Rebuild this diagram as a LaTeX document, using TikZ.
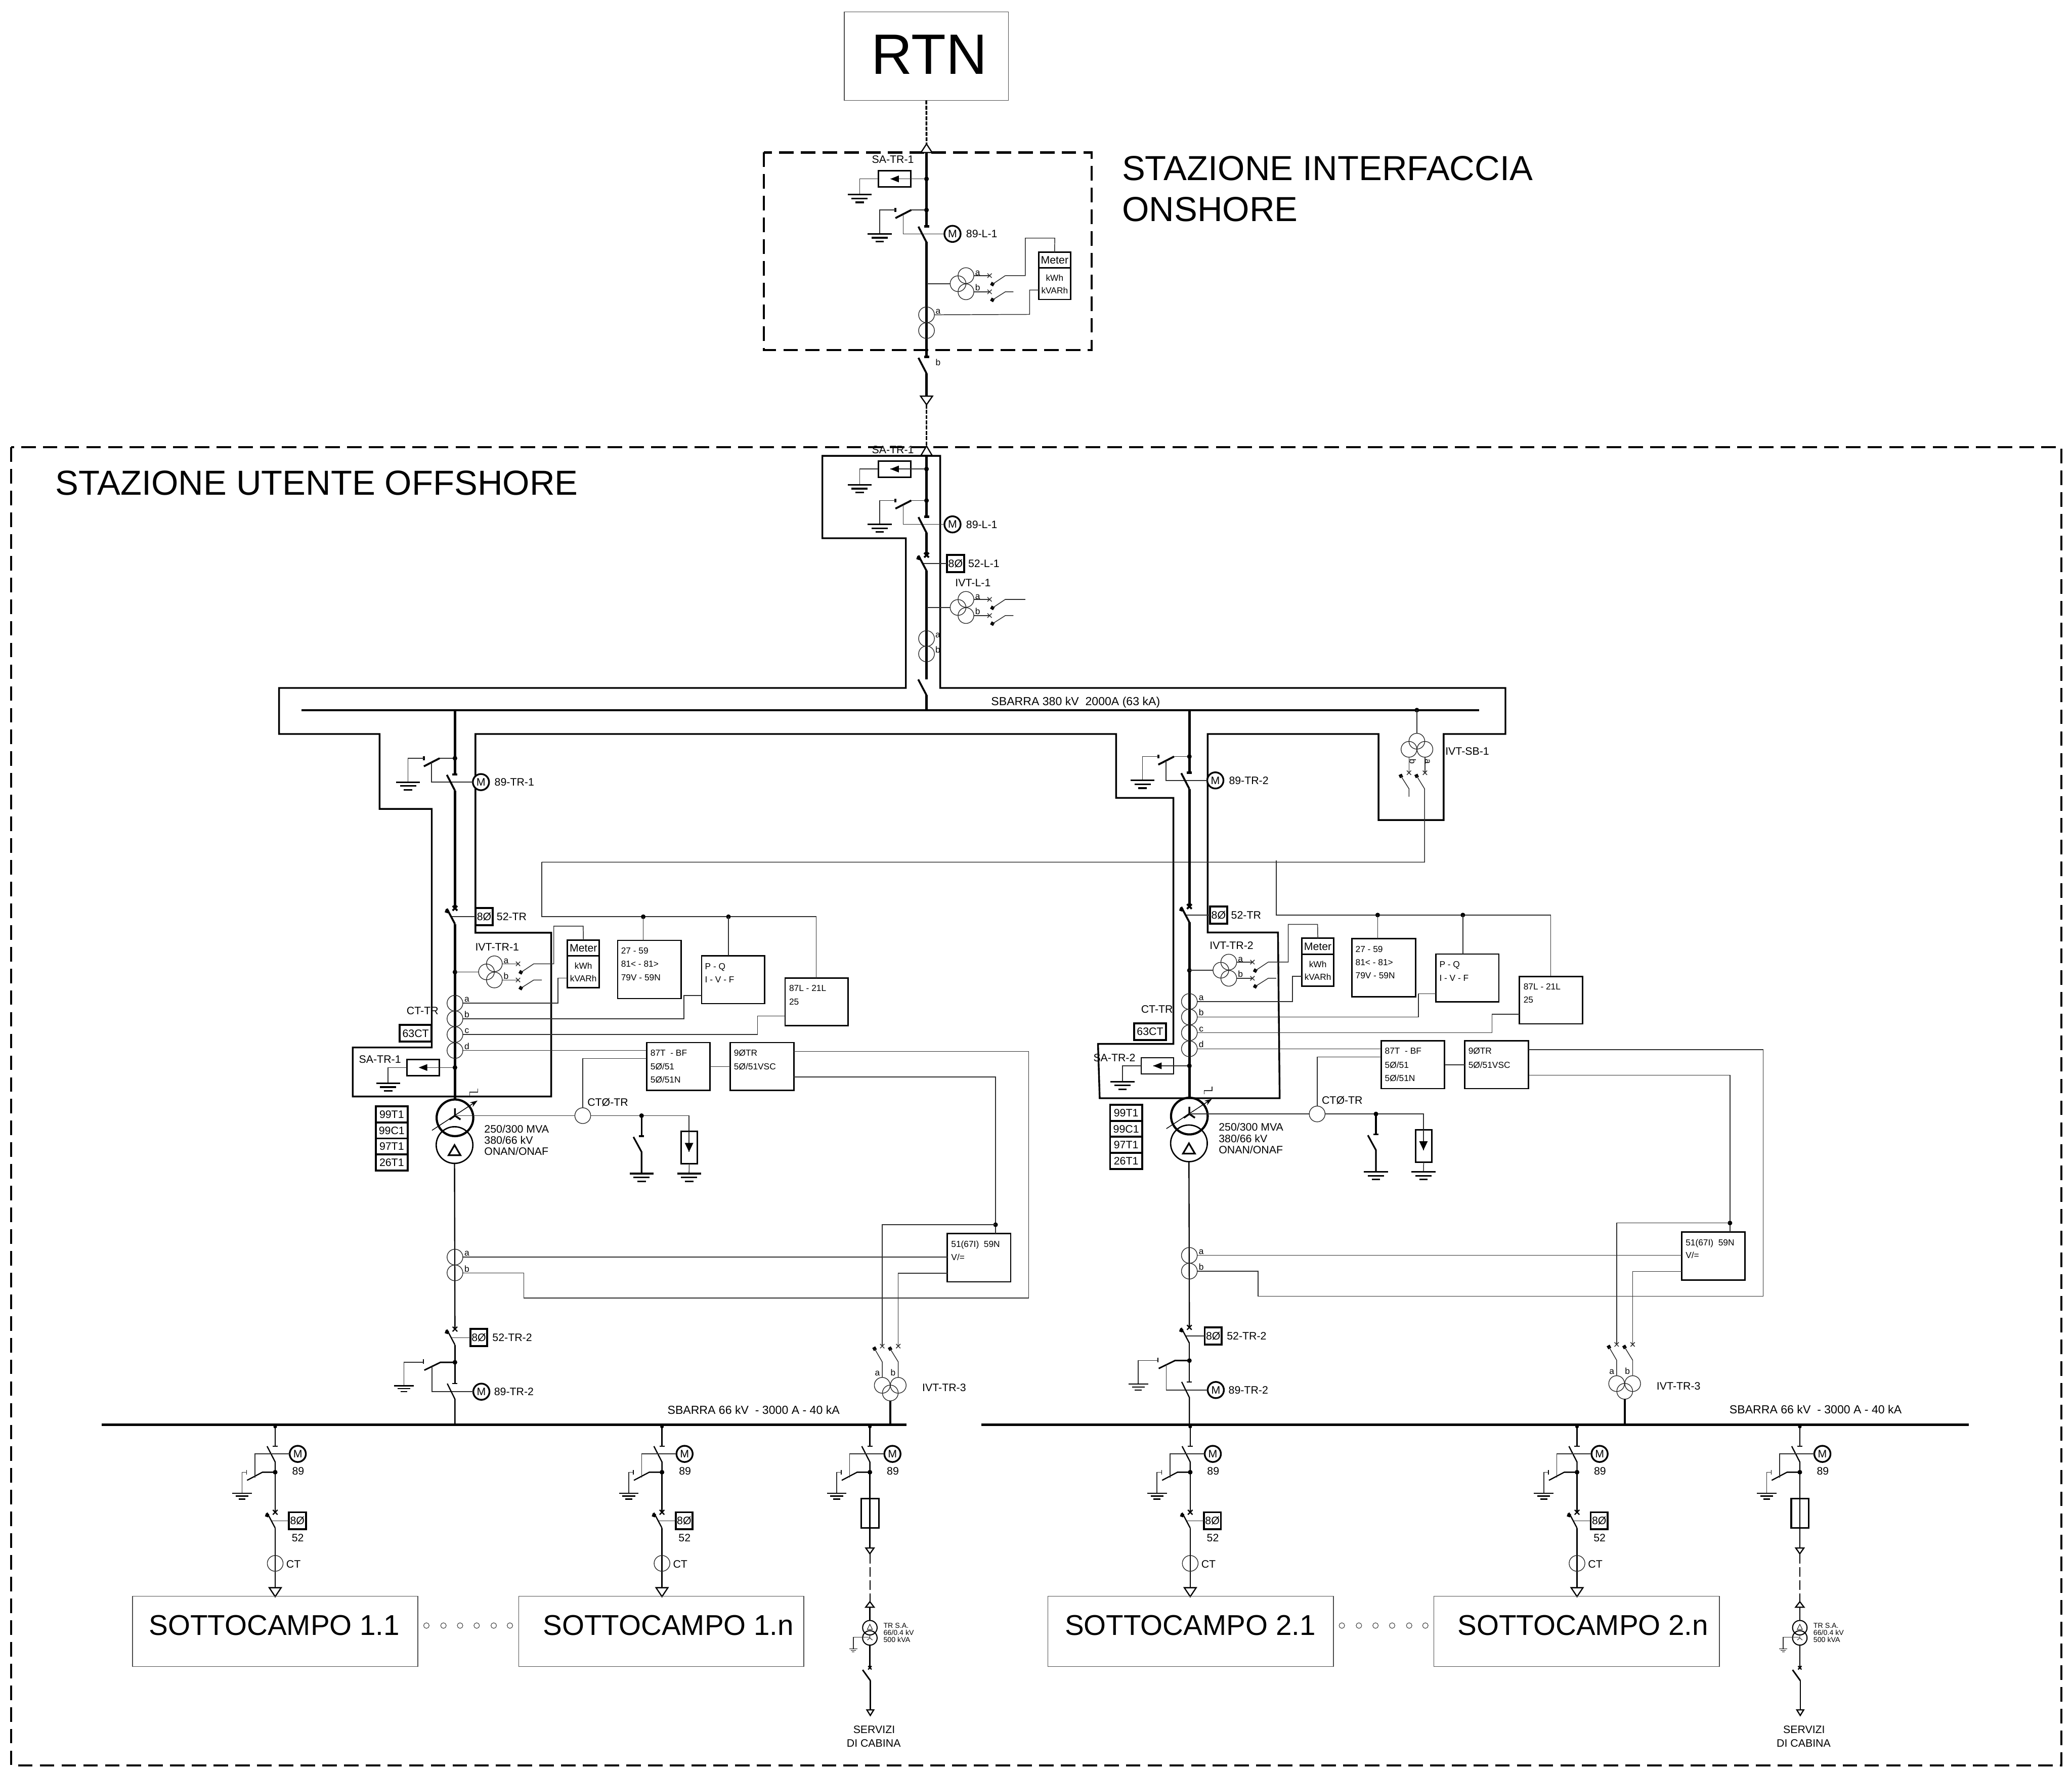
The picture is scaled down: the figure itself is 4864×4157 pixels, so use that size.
\documentclass[tikz,border=0pt]{standalone}
\usepackage{fontspec}
\setmainfont{Liberation Sans}
\usetikzlibrary{arrows.meta}
\newcounter{tn}
\tikzset{
 t7/.style={font=\fontsize{7.2}{8.6}\selectfont,text height=5.15pt,text depth=0pt,inner sep=0pt,outer sep=0pt},
 t6/.style={font=\fontsize{5.85}{7}\selectfont,text height=4.2pt,text depth=0pt,inner sep=0pt,outer sep=0pt},
 t8/.style={font=\fontsize{7.8}{9.5}\selectfont,text height=5.6pt,text depth=0pt,inner sep=0pt,outer sep=0pt},
 t5/.style={font=\fontsize{4.8}{5.8}\selectfont,text height=3.45pt,text depth=0pt,inner sep=0pt,outer sep=0pt},
 t19/.style={font=\fontsize{19.1}{22}\selectfont,text height=13.7pt,text depth=0pt,inner sep=0pt,outer sep=0pt},
 t23/.style={font=\fontsize{23.2}{27}\selectfont,text height=16.6pt,text depth=0pt,inner sep=0pt,outer sep=0pt},
 t38/.style={font=\fontsize{38}{44}\selectfont,text height=27pt,text depth=0pt,inner sep=0pt,outer sep=0pt},
 wire/.style={line width=0.5pt,draw=black!82},
 mainl/.style={line width=1.65pt},
 medl/.style={line width=0.8pt},
 fl/.style={line width=0.8pt},
 bladeA/.style={line width=1.25pt},
 bladeB/.style={line width=0.8pt},
 outl/.style={line width=1.15pt,line join=miter},
 busA/.style={line width=1.35pt},
 busB/.style={line width=1.7pt},
 zone/.style={line width=1.4pt,dash pattern=on 9.7pt off 4.8pt},
 cable/.style={line width=1.2pt,dash pattern=on 2.6pt off 0.9pt},
 cableB/.style={line width=0.7pt,dash pattern=on 6.5pt off 2.3pt},
 rbox/.style={draw,rectangle,line width=0.95pt,inner sep=0pt,outer sep=0pt},
 tbox/.style={draw,rectangle,line width=1.3pt,fill=white,inner sep=0pt,outer sep=0pt,t7},
 lbox/.style={draw=black!70,rectangle,line width=0.5pt,inner sep=0pt,outer sep=0pt},
 mot/.style={draw,circle,line width=1.15pt,fill=white,minimum size=0.38cm,inner sep=0pt,outer sep=0pt,font=\fontsize{7.2}{8.6}\selectfont},
 cir/.style={draw=black!85,circle,line width=0.45pt,minimum size=0.37cm,inner sep=0pt,outer sep=0pt},
 smc/.style={draw=black!70,circle,line width=0.4pt,minimum size=0.13cm,inner sep=0pt,outer sep=0pt},
}
\newcommand{\tx}[5][t7]{\stepcounter{tn}\node[#1,anchor=#2] (t\number\value{tn}) at (#3,#4) {#5};}
\newcommand{\bx}[6][rbox]{%
 \pgfmathsetmacro\myW{((#5)-(#3))*0.01}\pgfmathsetmacro\myH{((#6)-(#4))*0.01}%
 \node[#1,minimum width=\myW cm,minimum height=\myH cm] (#2) at ({((#3)+(#5))/2},{((#4)+(#6))/2}) {};}
\newcommand{\bxt}[7][rbox]{%
 \pgfmathsetmacro\myW{((#5)-(#3))*0.01}\pgfmathsetmacro\myH{((#6)-(#4))*0.01}%
 \node[#1,minimum width=\myW cm,minimum height=\myH cm] (#2) at ({((#3)+(#5))/2},{((#4)+(#6))/2}) {#7};}
\newcommand{\gndb}[2]{\draw[line width=1.1pt] (#1-28,#2)--(#1+28,#2) (#1-19,#2+9)--(#1+19,#2+9) (#1-10,#2+18)--(#1+10,#2+18);}
\newcommand{\gnds}[2]{\draw[line width=0.75pt] (#1-23,#2)--(#1+23,#2) (#1-15,#2+7)--(#1+15,#2+7) (#1-8,#2+14)--(#1+8,#2+14);}
\newcommand{\gndt}[2]{\draw[line width=0.4pt] (#1-9.5,#2)--(#1+9.5,#2) (#1-6,#2+3.5)--(#1+6,#2+3.5) (#1-3,#2+7)--(#1+3,#2+7);}
\newcommand{\xm}[4]{\draw[#4] (#1-#3,#2-#3)--(#1+#3,#2+#3) (#1-#3,#2+#3)--(#1+#3,#2-#3);}
\newcommand{\sq}[3]{\fill[rotate around={#3:(#1,#2)}] (#1-4,#2-4) rectangle (#1+4,#2+4);}
\newcommand{\trid}[5]{\draw[#5,fill=white] (#1-#4,#2)--(#1+#4,#2)--(#1,#3)--cycle;}
\newcommand{\jdot}[2]{\fill (#1,#2) circle (1.55pt);}
\newcommand{\eswitch}[4]{%
 \node[mot] (#1) at (#2+61,#3+56) {M};
 \draw[wire] (#2,#3)--(#2-36,#3);
 \draw[bladeA] (#2-36,#3)--(#2-73,#3+19);
 \draw[bladeA] (#2-73,#3-4.5)--(#2-73,#3+4.5);
 \draw[wire] (#2-73,#3)--(#2-110,#3)--(#2-110,#3+56);
 \gndb{#2-110}{#3+56}
 \draw[wire] (#2-55,#3+10)--(#2-55,#3+56)--(#1.west);
 \jdot{#2}{#3}
 \draw[mainl] (#2-6,#3+38)--(#2+6,#3+38);
 \draw[bladeA] (#2-19,#3+39)--(#2,#3+76);
 \tx{west}{#2+93}{#3+56}{#4}}
\newcommand{\breaker}[5]{%
 \bxt[tbox]{#1}{#2+#4-20}{#3}{#2+#4+20}{#3+40}{8Ø}
 \draw[wire] (#2-10,#3+20)--(#1.west);
 \draw[#5] (#2-19,#3+1)--(#2,#3+37);
 \xm{#2}{#3}{5.5}{#5}
 \sq{#2-19}{#3+7}{-20}}
\newcommand{\sabox}[3]{%
 \bx[rbox]{#1}{#2-113}{#3-19}{#2-37}{#3+19}
 \draw[wire] (#2,#3)--(#2-85,#3);
 \fill (#2-85,#3)--(#2-65,#3-8)--(#2-65,#3+8)--cycle;
 \draw[wire] (#1.west)--(#2-157,#3)--(#2-157,#3+37);
 \gndb{#2-157}{#3+37}
 \jdot{#2}{#3}}
\newcommand{\cvt}[3]{%
 \node[cir] (#1m) at (#2,#3) {};
 \node[cir] (#1a) at (#2+18.5,#3-19) {};
 \node[cir] (#1b) at (#2+18.5,#3+19) {};
 \draw[wire] (#1a.east)--(#2+74,#3-19);
 \draw[wire] (#1b.east)--(#2+74,#3+19);
 \xm{#2+74}{#3-19}{5}{wire}
 \xm{#2+74}{#3+19}{5}{wire}
 \sq{#2+80.6}{#3+1}{-30}
 \sq{#2+80.6}{#3+38}{-30}
 \coordinate (#1p) at (#2+111,#3-19);
 \coordinate (#1q) at (#2+130,#3+19);
 \draw[wire] (#2+81,#3+1)--(#1p);
 \draw[wire] (#2+81,#3+38)--(#2+111,#3+19)--(#1q);
 \tx[t6]{center}{#2+46}{#3-27}{a}
 \tx[t6]{center}{#2+46}{#3+9}{b}}
\newcommand{\meter}[6]{%
 \bxt[rbox,t7]{#1h}{#2}{#3}{#5}{#4}{Meter}
 \bx[rbox]{#1}{#2}{#4}{#5}{#6}
 \pgfmathsetmacro\myMx{((#2)+(#5))/2}%
 \tx[t6]{center}{\myMx}{#4+23.5}{kWh}
 \tx[t6]{center}{\myMx}{#4+53}{kVARh}}
\newcommand{\bay}[4]{%
 % main circuit
 \draw[mainl] (1068,1669)--(1068,1818);
 \eswitch{m#1}{1068}{1780}{#2}
 \draw[mainl] (1068,1856)--(1068,2132);
 \breaker{b#1}{1068}{2132}{68.5}{bladeA}
 \tx{west}{1166}{2152}{52-TR}
 \draw[mainl] (1068,2169)--(1068,2581);
 \jdot{1068}{2282}
 % voltage transformer
 \cvt{vt#1}{1142}{2281.5}
 \draw[wire] (1068,2281.5)--(vt#1m.west);
 \tx{center}{1167}{2223}{#3}
 \meter{mt#1}{1332}{2206.5}{2244}{1407}{2319}
 \draw[wire] (vt#1p)--(1300,2262.5)--(1300,2174)--(1369,2174)--(mt#1h.north);
 % current transformers
 \node[cir] (ct#1a) at (1068,2355) {};
 \node[cir] (ct#1b) at (1068,2391.5) {};
 \node[cir] (ct#1c) at (1068,2428.5) {};
 \node[cir] (ct#1d) at (1068,2466) {};
 \tx[t6]{center}{1096}{2345}{a}
 \tx[t6]{center}{1096}{2381}{b}
 \tx[t6]{center}{1096}{2418}{c}
 \tx[t6]{center}{1096}{2455.5}{d}
 \tx{center}{992}{2373}{CT-TR}
 \bxt[tbox]{ctb#1}{938.5}{2406}{1013}{2445}{63CT}
 \sabox{sa#1}{1068}{2506}
 \tx{center}{892}{2487}{#4}
 % relays
 \bx[rbox]{ra#1}{1450}{2207.5}{1599}{2344}
 \tx[t6]{west}{1458}{2232}{27 - 59}
 \tx[t6]{west}{1458}{2263}{81< - 81>}
 \tx[t6]{west}{1458}{2294}{79V - 59N}
 \bx[rbox]{rb#1}{1647}{2243.5}{1794.5}{2356}
 \tx[t6]{west}{1655}{2268}{P - Q}
 \tx[t6]{west}{1655}{2299.5}{I - V - F}
 \bx[rbox]{rc#1}{1843}{2296}{1991}{2407.5}
 \tx[t6]{west}{1852.5}{2320}{87L - 21L}
 \tx[t6]{west}{1852.5}{2351}{25}
 \bx[rbox]{rd#1}{1518}{2447.5}{1667}{2559.5}
 \tx[t6]{west}{1527}{2471}{87T\ \ - BF}
 \tx[t6]{west}{1527}{2504}{5Ø/51}
 \tx[t6]{west}{1527}{2535}{5Ø/51N}
 \bx[rbox]{re#1}{1714.5}{2447.5}{1863.5}{2559.5}
 \tx[t6]{west}{1723}{2471}{9ØTR}
 \tx[t6]{west}{1723}{2504}{5Ø/51VSC}
 \bx[rbox]{rf#1}{2224}{2896}{2372.5}{3009}
 \tx[t6]{west}{2233}{2920.5}{51(67I)\ \ 59N}
 \tx[t6]{west}{2233}{2951}{V/=}
 % relay wiring
 \draw[wire] (1272,2024)--(1272,2152)--(1916,2152)--(1916,2296);
 \jdot{1510}{2152}\jdot{1710}{2152}
 \draw[wire] (1510,2152)--(1510,2207.5);
 \draw[wire] (1710,2152)--(1710,2243.5);
 \draw[wire] (ct#1a.east)--(1310,2355)--(1310,2296)--(1332,2296);
 \draw[wire] (ct#1b.east)--(1605.5,2391.5)--(1605.5,2337)--(1647,2337);
 \draw[wire] (ct#1c.east)--(1778.5,2428.5)--(1778.5,2385)--(1843,2385);
 \draw[wire] (ct#1d.east)--(1518,2466);
 \draw[wire] (rd#1.east)--(re#1.west);
 % transformer
 \node[draw,circle,line width=1.45pt,minimum size=0.86cm,inner sep=0pt,outer sep=0pt] (tu#1) at (1068,2624) {};
 \node[draw,circle,line width=0.9pt,minimum size=0.86cm,inner sep=0pt,outer sep=0pt] (tl#1) at (1067,2688) {};
 \draw[line width=1.2pt] (1068,2602)--(1068,2619) (1055,2628)--(1068,2619)--(1081,2628);
 \draw[line width=1.1pt] (1067,2688)--(1053,2712)--(1081,2712)--cycle;
 \draw[wire,-{Stealth[length=5pt,width=3.5pt]},draw=black] (1014,2653.5)--(1121,2583.6);
 \draw[wire] (1102.5,2573)--(1102.5,2564)--(1121.4,2564)--(1121.4,2555);
 \tx{west}{1137}{2650}{250/300 MVA}
 \tx{west}{1137}{2677}{380/66 kV}
 \tx{west}{1137}{2703}{ONAN/ONAF}
 \bxt[tbox]{s1#1}{882}{2597}{957}{2635}{99T1}
 \bxt[tbox]{s2#1}{882}{2635}{957}{2672.5}{99C1}
 \bxt[tbox]{s3#1}{882}{2672.5}{957}{2710}{97T1}
 \bxt[tbox]{s4#1}{882}{2710}{957}{2748}{26T1}
 % neutral
 \node[cir] (cz#1) at (1368,2619) {};
 \tx{west}{1379}{2587}{CTØ-TR}
 \draw[wire] (1068,2619)--(cz#1.west);
 \draw[wire] (cz#1.east)--(1506,2619)--(1617.5,2619)--(1617.5,2656);
 \draw[wire] (cz#1.north)--(1368,2485)--(1518,2485);
 \jdot{1506}{2619}
 \draw[line width=1.1pt] (1506,2619)--(1506,2667) (1500,2667)--(1512,2667);
 \draw[line width=1.1pt] (1487,2669)--(1506,2704)--(1506,2755);
 \gndb{1506}{2755}
 \bx[rbox]{sg#1}{1599}{2656}{1637}{2732}
 \draw[wire] (1617.5,2656)--(1617.5,2704);
 \fill (1607.5,2683)--(1627.5,2683)--(1617.5,2704)--cycle;
 \draw[wire] (sg#1.south)--(1617.5,2755);
 \gndb{1617.5}{2755}
 % secondary side
 \draw[medl] (tl#1.south)--(1068,3120);
 \node[cir] (cu#1a) at (1068,2951) {};
 \node[cir] (cu#1b) at (1068,2988) {};
 \tx[t6]{center}{1096}{2941}{a}
 \tx[t6]{center}{1096}{2978}{b}
 \draw[wire] (cu#1a.east)--(2224,2951);
 \draw[wire] (cu#1b.east)--(1229.5,2988)--(1229.5,3047)--(2415,3047)--(2415,2468)--(1863.5,2468);
 \draw[wire] (1863.5,2528)--(2337,2528)--(2337,2896);
 \jdot{2337}{2875}
 \draw[wire] (2337,2875)--(2071,2875)--(2071,3160);
 \draw[wire] (2224,2989)--(2108.6,2989)--(2108.6,3160);
 % IVT-TR-3
 \xm{2071}{3160}{5}{wire}\xm{2108.6}{3160}{5}{wire}
 \sq{2053}{3166}{30}\sq{2089.5}{3166}{30}
 \node[cir] (vu#1a) at (2071,3252) {};
 \node[cir] (vu#1b) at (2108.6,3252) {};
 \node[cir] (vu#1c) at (2090,3270) {};
 \draw[wire] (2053,3166)--(2071,3197)--(vu#1a.north);
 \draw[wire] (2089.5,3166)--(2108.6,3197)--(vu#1b.north);
 \tx[t6]{center}{2059.5}{3222}{a}
 \tx[t6]{center}{2096.5}{3222}{b}
 \tx{west}{2165}{3257}{IVT-TR-3}
 \draw[line width=1.25pt] (vu#1c.south)--(2090,3346);
 % low-voltage breaker and disconnector
 \breaker{bl#1}{1068}{3120}{56}{bladeB}
 \tx{west}{1156}{3140}{52-TR-2}
 \draw[medl] (1068,3157)--(1068,3248);
 \jdot{1068}{3198}
 \draw[medl] (1062,3248)--(1074,3248);
 \draw[line width=1pt] (1068,3198)--(1034,3198)--(996,3216.5);
 \draw[medl] (994,3191)--(994,3202);
 \draw[wire] (994,3198)--(948,3198)--(948,3253);
 \gnds{948}{3253}
 \node[mot] (ml#1) at (1130,3267) {M};
 \draw[wire] (1014,3207)--(1014,3267)--(ml#1.west);
 \draw[medl] (1050,3248)--(1068,3284.5)--(1068,3347);
 \tx{west}{1160}{3267}{89-TR-2}
}
\newcommand{\fdtop}[2]{%
 \node[mot] (#1m) at (#2+53,3413) {M};
 \fill (#2,3349) circle (1.2pt);
 \draw[fl] (#2,3344)--(#2,3395);
 \draw[fl] (#2-6,3395)--(#2+6,3395);
 \draw[fl] (#2-19,3395)--(#2,3432)--(#2,3456);
 \jdot{#2}{3456}
 \draw[fl] (#2,3456)--(#2-30,3456)--(#2-66,3475);
 \draw[line width=0.6pt] (#2-67,3451)--(#2-67,3461);
 \draw[wire] (#2-67,3456)--(#2-78,3456)--(#2-78,3505);
 \gnds{#2-78}{3505}
 \draw[wire] (#2-47.5,3469)--(#2-47.5,3413)--(#1m.west);
 \tx{center}{#2+54}{3453}{89}}
\newcommand{\fda}[2]{%
 \fdtop{#1}{#2}
 \draw[fl] (#2,3456)--(#2,3550);
 \breaker{#1b}{#2}{3550}{52}{bladeB}
 \tx{center}{#2+53}{3610}{52}
 \draw[fl] (#2,3587)--(#2,3727);
 \node[cir] (#1c) at (#2,3670) {};
 \tx{west}{#2+26}{3672}{CT}
 \trid{#2}{3727}{3748}{14}{medl}}
\newcommand{\fdb}[2]{%
 \fdtop{#1}{#2}
 \draw[fl] (#2,3456)--(#2,3634);
 \bx[rbox,line width=1.1pt]{#1f}{#2-20}{3518}{#2+21}{3587}
 \draw[fl] (#2,3518)--(#2,3587);
 \trid{#2}{3634}{3647.5}{9.5}{medl}
 \draw[cableB] (#2,3648)--(#2,3760);
 \trid{#2}{3773}{3760}{10}{medl}
 \draw[fl] (#2,3773)--(#2,3804);
 \node[draw,circle,line width=0.7pt,minimum size=0.34cm,inner sep=0pt,outer sep=0pt] (#1u) at (#2,3821) {};
 \node[draw,circle,line width=0.7pt,minimum size=0.34cm,inner sep=0pt,outer sep=0pt] (#1l) at (#2,3845) {};
 \draw[line width=0.3pt] (#2,3813)--(#2-6,3825)--(#2+6,3825)--cycle;
 \draw[line width=0.3pt] (#2,3838)--(#2,3845) (#2-6,3850)--(#2,3845)--(#2+6,3850);
 \draw[wire] (#2,3843)--(#2-39,3843)--(#2-39,3870.5);
 \gndt{#2-39}{3870.5}
 \draw[fl] (#1l.south)--(#2,3915);
 \xm{#2}{3915}{4}{medl}
 \draw[line width=1pt] (#2-17,3920)--(#2+1,3945);
 \draw[fl] (#2+1,3945)--(#2+1,4014);
 \trid{#2+1}{4014}{4027}{8}{medl}
 \tx[t5]{west}{#2+32}{3815.5}{TR S.A.}
 \tx[t5]{west}{#2+32}{3832}{66/0.4 kV}
 \tx[t5]{west}{#2+32}{3849}{500 kVA}
 \tx{center}{#2+10}{4060}{SERVIZI}
 \tx{center}{#2+9}{4092.5}{DI CABINA}}
\begin{document}
\begin{tikzpicture}[x=0.01cm,y=-0.01cm]
\useasboundingbox (0,0) rectangle (4864,4157);
% zones
\draw[zone] (1793,358) rectangle (2562.5,822);
\draw[zone] (26,1050) rectangle (4839,4144);
% outline of the offshore busbar enclosure
\draw[outl] (1930.5,1070)--(2207,1070)--(2207,1615)--(3534,1615)--(3534,1723)--(3389,1723)--(3389,1925)--(3236,1925)--(3236,1723)--(2835,1723)--(2835,2189)--(3000,2189)--(3004,2578)--(2581.5,2578)--(2577.5,2450.5)--(2754.5,2450.5)--(2754.5,1873)--(2620,1873)--(2620,1723)--(1116,1723)--(1116,2189.5)--(1294,2189.5)--(1294,2574)--(828,2574)--(828,2459)--(1013.5,2459)--(1013.5,1899)--(891,1899)--(891,1723)--(655,1723)--(655,1615)--(2126.5,1615)--(2126.5,1263.5)--(1930.5,1263.5)--cycle;
% titles
\bx[lbox]{rtn}{1982}{28}{2367}{236}
\tx[t38]{center}{2181}{126}{RTN}
\tx[t23]{west}{2634}{394}{STAZIONE INTERFACCIA}
\tx[t23]{west}{2634}{490}{ONSHORE}
\tx[t23]{west}{130}{1133}{STAZIONE UTENTE OFFSHORE}
% onshore station
\draw[cable] (rtn.south)--(2175,338);
\trid{2175}{358}{338}{13}{medl}
\draw[mainl] (2175,358)--(2175,532);
\sabox{sa0}{2175}{420}
\tx{center}{2096}{374}{SA-TR-1}
\eswitch{m0}{2175}{493}{89-L-1}
\draw[mainl] (2175,568)--(2175,838);
\cvt{vt0}{2249}{666}
\draw[wire] (2175,666)--(vt0m.west);
\meter{mt0}{2438.5}{592}{629}{2513}{703}
\draw[wire] (vt0p)--(2407,647)--(2407,559)--(2476,559)--(mt0h.north);
\node[cir] (ct0a) at (2175,739) {};
\node[cir] (ct0b) at (2175,776) {};
\tx[t6]{center}{2202}{730}{a}
\tx[t6]{center}{2202}{851}{b}
\draw[wire] (ct0a.east)--(2417,738)--(2417,681)--(2438.5,681);
\draw[mainl] (2169,838)--(2181,838);
\draw[bladeA] (2156,840)--(2175,876.5);
\draw[mainl] (2175,876.5)--(2175,930);
\trid{2175}{930}{950}{14}{medl}
\draw[cable] (2175,950)--(2175,1047);
% offshore incoming line
\trid{2175}{1069}{1047}{13}{medl}
\draw[mainl] (2175,1069)--(2175,1212);
\sabox{sa9}{2175}{1101}
\tx{center}{2096}{1056}{SA-TR-1}
\eswitch{m9}{2175}{1175}{89-L-1}
\draw[mainl] (2175,1251)--(2175,1304.5);
\breaker{b9}{2175}{1303}{68}{bladeA}
\tx{west}{2273}{1323}{52-L-1}
\tx{center}{2284}{1368}{IVT-L-1}
\draw[mainl] (2175,1340)--(2175,1595);
\cvt{vt9}{2249}{1426}
\draw[wire] (2175,1426)--(vt9m.west);
\draw[wire] (vt9p)--(2407,1407);
\node[cir] (ct9a) at (2175,1499) {};
\node[cir] (ct9b) at (2175,1535) {};
\tx[t6]{center}{2201.5}{1490}{a}
\tx[t6]{center}{2201.5}{1525.5}{b}
\draw[bladeA] (2155.5,1595)--(2175,1632);
\draw[mainl] (2175,1632)--(2175,1667);
% 380 kV busbar
\draw[busA] (708,1667)--(3472,1667);
\tx[t8]{center}{2525}{1646}{SBARRA 380 kV\ \ 2000A (63 kA)}
% IVT-SB-1
\jdot{3326}{1667}
\node[cir] (sbc) at (3326,1740) {};
\node[cir] (sbb) at (3307.5,1759) {};
\node[cir] (sba) at (3345,1759) {};
\draw[wire] (3326,1667)--(sbc.north);
\draw[wire] (sbb.south)--(3307.5,1814);
\draw[wire] (sba.south)--(3345,1814);
\xm{3307.5}{1814}{5}{wire}\xm{3345}{1814}{5}{wire}
\sq{3288.5}{1821.5}{25}\sq{3325.5}{1821.5}{25}
\draw[wire] (3288.5,1821.5)--(3307.5,1851.5)--(3307.5,1870);
\draw[wire] (3325.5,1821.5)--(3344,1851.5)--(3344,2024)--(1272,2024);
\tx[t6,rotate=-90]{center}{3316.5}{1787}{b}
\tx[t6,rotate=-90]{center}{3353}{1787}{a}
\tx{west}{3393}{1763}{IVT-SB-1}
% bays
\bay{1}{89-TR-1}{IVT-TR-1}{SA-TR-1}
\begin{scope}[shift={(1724,-4)}]
\bay{2}{89-TR-2}{IVT-TR-2}{SA-TR-2}
\end{scope}
% 66 kV busbars
\draw[busB] (239,3344)--(2128.5,3344);
\draw[busB] (2304,3344)--(4622,3344);
\tx[t8]{center}{1769}{3310}{SBARRA 66 kV\ \ - 3000 A - 40 kA}
\tx[t8]{center}{4262}{3309}{SBARRA 66 kV\ \ - 3000 A - 40 kA}
% feeders
\fda{fa}{646}
\fda{fc}{1554}
\fdb{fe}{2042}
\fda{fb}{2794}
\fda{fd}{3702}
\fdb{ff}{4225}
% sub-fields
\bx[lbox]{sc1}{311}{3747}{981}{3912}
\bx[lbox]{sc2}{1218}{3747}{1887}{3912}
\bx[lbox]{sc3}{2460}{3747}{3130}{3912}
\bx[lbox]{sc4}{3366}{3747}{4036}{3912}
\tx[t19]{center}{644}{3814}{SOTTOCAMPO 1.1}
\tx[t19]{center}{1569}{3814}{SOTTOCAMPO 1.n}
\tx[t19]{center}{2794}{3814}{SOTTOCAMPO 2.1}
\tx[t19]{center}{3716}{3814}{SOTTOCAMPO 2.n}
\foreach \i/\xx in {1/1001,2/1041,3/1080,4/1119,5/1159,6/1197}{
 \node[smc] (da\i) at (\xx,3816) {};
 \node[smc] (db\i) at (\xx+2149,3816) {};
}
\end{tikzpicture}
\end{document}
